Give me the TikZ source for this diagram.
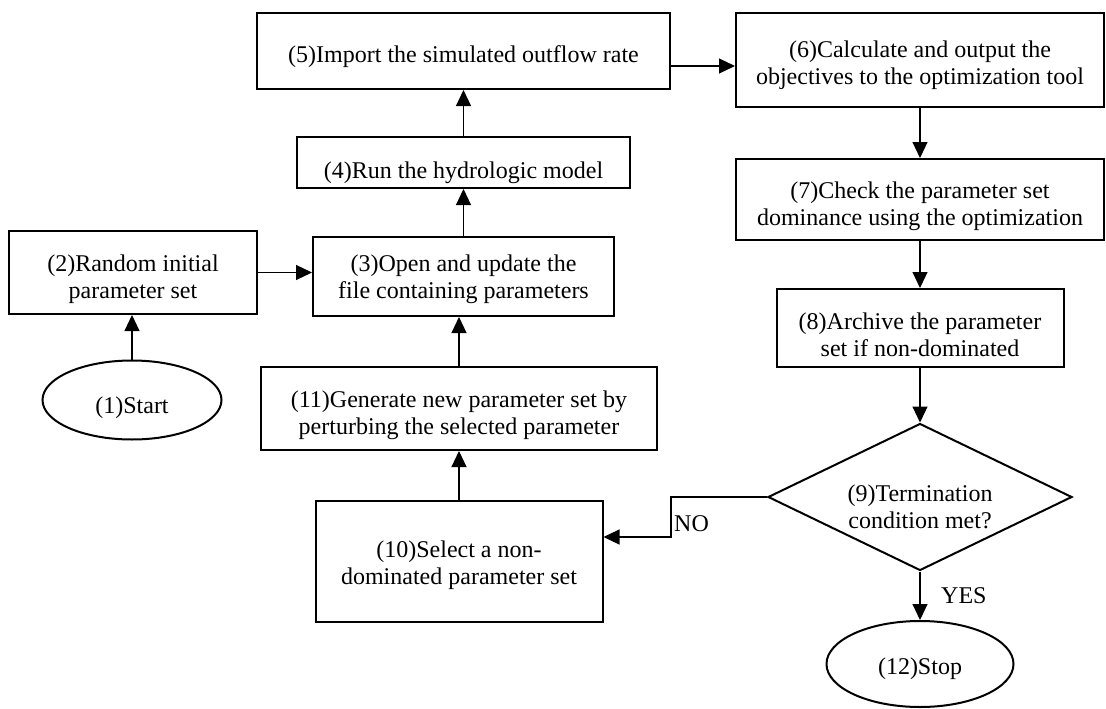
\documentclass[tikz,border=0pt]{standalone}
\usepackage{fontspec}
\setmainfont{Liberation Serif}
\usetikzlibrary{shapes.geometric,arrows.meta}
\begin{document}
\begin{tikzpicture}[x=1pt,y=-1pt,
  every node/.style={font=\fontsize{24}{27}\selectfont, inner sep=0pt, align=center},
  procbox/.style={draw, line width=2pt, rectangle},
  termnode/.style={draw, line width=2pt, ellipse},
  decision/.style={draw, line width=2pt, diamond, aspect=2},
  arr/.style={line width=1.1pt, -{Triangle[length=16pt,width=15pt]}},
  lbl/.style={anchor=west},
]
\useasboundingbox (0,0) rectangle (1106,709);

% terminators
\node[termnode, minimum width=179pt, minimum height=79pt] (e1) at (132,400) {};
\node[termnode, minimum width=187pt, minimum height=86pt] (e12) at (920,664) {};

% process boxes
\node[procbox, minimum width=248pt, minimum height=83pt] (b2) at (133,272.5) {};
\node[procbox, minimum width=301pt, minimum height=79pt] (b3) at (463.5,276.5) {};
\node[procbox, minimum width=333pt, minimum height=51pt] (b4) at (463.5,162.5) {};
\node[procbox, minimum width=413pt, minimum height=76pt] (b5) at (463.5,51) {};
\node[procbox, minimum width=368pt, minimum height=94pt] (b6) at (920,60) {};
\node[procbox, minimum width=368pt, minimum height=81pt] (b7) at (920,199.5) {};
\node[procbox, minimum width=287pt, minimum height=78pt] (b8) at (920,328) {};
\node[procbox, minimum width=396pt, minimum height=83pt] (b11) at (459,408.5) {};
\node[procbox, minimum width=287pt, minimum height=121pt] (b10) at (459,561.5) {};

% decision
\node[decision, minimum width=304pt, minimum height=147pt] (d9) at (920,497) {};

% texts inside the shapes
\node[yshift=-8pt] (t1) at (e1) {(1)Start};
\node[yshift=-5pt] (t12) at (e12) {(12)Stop};
\node[yshift=-7pt] (t2) at (b2) {(2)Random initial\\parameter set};
\node[yshift=-3pt] (t3) at (b3) {(3)Open and update the\\file containing parameters};
\node[yshift=-10pt] (t4) at (b4) {(4)Run the hydrologic model};
\node[yshift=-6pt] (t5) at (b5) {(5)Import the simulated outflow rate};
\node[yshift=-5pt] (t6) at (b6) {(6)Calculate and output the\\objectives to the optimization tool};
\node[yshift=-7pt] (t7) at (b7) {(7)Check the parameter set\\dominance using the optimization};
\node[yshift=-7pt] (t8) at (b8) {(8)Archive the parameter\\set if non-dominated};
\node[yshift=-7pt] (t11) at (b11) {(11)Generate new parameter set by\\perturbing the selected parameter};
\node[yshift=-4pt] (t10) at (b10) {(10)Select a non-\\dominated parameter set};
\node[yshift=-10pt] (t9) at (d9) {(9)Termination\\condition met?};

% connectors
\draw[arr] (e1.north) -- (e1.north |- b2.south);
\draw[arr] (b2.east) -- (b2.east -| b3.west);
\draw[arr] (b3.north) -- (b4.south);
\draw[arr] (b4.north) -- (b5.south);
\draw[arr] ([yshift=-15pt]b5.east) -- ([yshift=-15pt]b5.east -| b6.west);
\draw[arr] (b6.south) -- (b7.north);
\draw[arr] (b7.south) -- (b8.north);
\draw[arr] (b8.south) -- (d9.north);
\draw[arr] (d9.south) -- (e12.north);
\draw[arr] (b10.north) -- (b11.south);
\draw[arr] (b11.north) -- (b11.north |- b3.south);

\coordinate (nobend) at (671,537);
\draw[arr] (d9.west) -| (nobend) -- (nobend -| b10.east);

% branch labels
\node[lbl] (lno) at (674,524) {NO};
\node[lbl] (lyes) at (941,596) {YES};
\end{tikzpicture}
\end{document}
